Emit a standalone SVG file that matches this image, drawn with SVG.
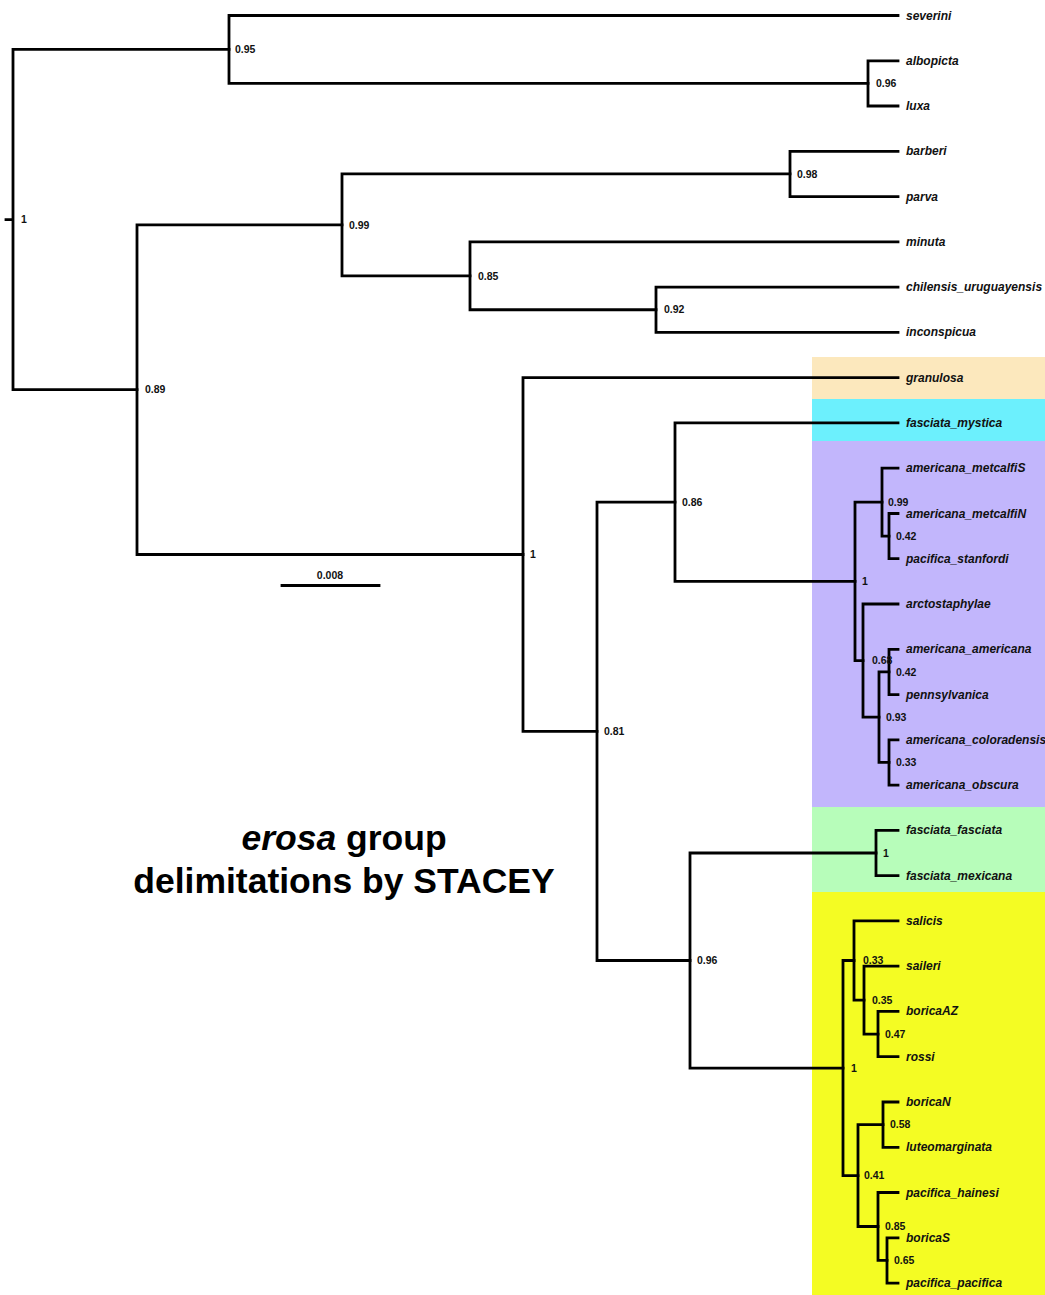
<svg xmlns="http://www.w3.org/2000/svg" width="1045" height="1295" viewBox="0 0 1045 1295">
<style>
.br{fill:none;stroke:#000;stroke-width:2.8;stroke-linecap:square;stroke-linejoin:miter}
.leaf{font-family:"Liberation Sans",Arial,sans-serif;font-size:12px;font-weight:bold;font-style:italic;fill:#111}
.sup{font-family:"Liberation Sans",Arial,sans-serif;font-size:10.5px;font-weight:bold;fill:#111}
.title{font-family:"Liberation Sans",Arial,sans-serif;font-size:35.5px;font-weight:bold;fill:#000;text-anchor:middle}
</style>
<rect x="0" y="0" width="1045" height="1295" fill="#fff"/>
<g id="bands">
<rect x="812" y="357" width="233" height="42" fill="#FCE8BD"/>
<rect x="812" y="399" width="233" height="42" fill="#6CF0FD"/>
<rect x="812" y="441" width="233" height="366" fill="#C2B6FC"/>
<rect x="812" y="807" width="233" height="85" fill="#B7FDBA"/>
<rect x="812" y="892" width="233" height="403" fill="#F4FC23"/>
</g>
<g id="connectors">
<path class="br" d="M6 219.6H13M13 49.45V389.7M13 49.45H229M13 389.7H137"/>
<path class="br" d="M229 15.5V83.4M229 15.5H898M229 83.4H868"/>
<path class="br" d="M868 60.8V106M868 60.8H898M868 106H898"/>
<path class="br" d="M137 224.9V554.5M137 224.9H342M137 554.5H523"/>
<path class="br" d="M342 173.95V275.8M342 173.95H790M342 275.8H470"/>
<path class="br" d="M790 151.3V196.6M790 151.3H898M790 196.6H898"/>
<path class="br" d="M470 241.9V309.75M470 241.9H898M470 309.75H656"/>
<path class="br" d="M656 287.1V332.4M656 287.1H898M656 332.4H898"/>
<path class="br" d="M523 377.7V731.3M523 377.7H898M523 731.3H597"/>
<path class="br" d="M597 502.15V960.5M597 502.15H675M597 960.5H690"/>
<path class="br" d="M675 422.9V581.4M675 422.9H898M675 581.4H855"/>
<path class="br" d="M855 502.15V660.6M855 502.15H882M855 660.6H863"/>
<path class="br" d="M882 468.2V536.1M882 468.2H898M882 536.1H889"/>
<path class="br" d="M889 513.5V558.7M889 513.5H898M889 558.7H898"/>
<path class="br" d="M863 604V717.2M863 604H898M863 717.2H879"/>
<path class="br" d="M879 671.95V762.45M879 671.95H889M879 762.45H889"/>
<path class="br" d="M889 649.3V694.6M889 649.3H898M889 694.6H898"/>
<path class="br" d="M889 739.8V785.1M889 739.8H898M889 785.1H898"/>
<path class="br" d="M690 853V1068.05M690 853H876M690 1068.05H843"/>
<path class="br" d="M876 830.4V875.6M876 830.4H898M876 875.6H898"/>
<path class="br" d="M843 960.5V1175.6M843 960.5H854M843 1175.6H858"/>
<path class="br" d="M854 920.9V1000.1M854 920.9H898M854 1000.1H864"/>
<path class="br" d="M864 966.2V1034.05M864 966.2H898M864 1034.05H878"/>
<path class="br" d="M878 1011.4V1056.7M878 1011.4H898M878 1056.7H898"/>
<path class="br" d="M858 1124.65V1226.5M858 1124.65H883M858 1226.5H878"/>
<path class="br" d="M883 1102V1147.3M883 1102H898M883 1147.3H898"/>
<path class="br" d="M878 1192.5V1260.45M878 1192.5H898M878 1260.45H887"/>
<path class="br" d="M887 1237.8V1283.1M887 1237.8H898M887 1283.1H898"/>
<path class="br" d="M282 585.5H379"/>
</g>
<g id="leaves">
<g id="leaf-severini"><text class="leaf" x="906" y="19.5">severini</text></g>
<g id="leaf-albopicta"><text class="leaf" x="906" y="64.8">albopicta</text></g>
<g id="leaf-luxa"><text class="leaf" x="906" y="110">luxa</text></g>
<g id="leaf-barberi"><text class="leaf" x="906" y="155.3">barberi</text></g>
<g id="leaf-parva"><text class="leaf" x="906" y="200.6">parva</text></g>
<g id="leaf-minuta"><text class="leaf" x="906" y="245.9">minuta</text></g>
<g id="leaf-chilensis"><text class="leaf" x="906" y="291.1">chilensis_uruguayensis</text></g>
<g id="leaf-inconspicua"><text class="leaf" x="906" y="336.4">inconspicua</text></g>
<g id="leaf-granulosa"><text class="leaf" x="906" y="381.7">granulosa</text></g>
<g id="leaf-fasciata_mystica"><text class="leaf" x="906" y="426.9">fasciata_mystica</text></g>
<g id="leaf-americana_metcalfiS"><text class="leaf" x="906" y="472.2">americana_metcalfiS</text></g>
<g id="leaf-americana_metcalfiN"><text class="leaf" x="906" y="517.5">americana_metcalfiN</text></g>
<g id="leaf-pacifica_stanfordi"><text class="leaf" x="906" y="562.7">pacifica_stanfordi</text></g>
<g id="leaf-arctostaphylae"><text class="leaf" x="906" y="608">arctostaphylae</text></g>
<g id="leaf-americana_americana"><text class="leaf" x="906" y="653.3">americana_americana</text></g>
<g id="leaf-pennsylvanica"><text class="leaf" x="906" y="698.6">pennsylvanica</text></g>
<g id="leaf-americana_coloradensis"><text class="leaf" x="906" y="743.8">americana_coloradensis</text></g>
<g id="leaf-americana_obscura"><text class="leaf" x="906" y="789.1">americana_obscura</text></g>
<g id="leaf-fasciata_fasciata"><text class="leaf" x="906" y="834.4">fasciata_fasciata</text></g>
<g id="leaf-fasciata_mexicana"><text class="leaf" x="906" y="879.6">fasciata_mexicana</text></g>
<g id="leaf-salicis"><text class="leaf" x="906" y="924.9">salicis</text></g>
<g id="leaf-saileri"><text class="leaf" x="906" y="970.2">saileri</text></g>
<g id="leaf-boricaAZ"><text class="leaf" x="906" y="1015.4">boricaAZ</text></g>
<g id="leaf-rossi"><text class="leaf" x="906" y="1060.7">rossi</text></g>
<g id="leaf-boricaN"><text class="leaf" x="906" y="1106">boricaN</text></g>
<g id="leaf-luteomarginata"><text class="leaf" x="906" y="1151.3">luteomarginata</text></g>
<g id="leaf-pacifica_hainesi"><text class="leaf" x="906" y="1196.5">pacifica_hainesi</text></g>
<g id="leaf-boricaS"><text class="leaf" x="906" y="1241.8">boricaS</text></g>
<g id="leaf-pacifica_pacifica"><text class="leaf" x="906" y="1287.1">pacifica_pacifica</text></g>
</g>
<g id="support">
<g id="n-root"><text class="sup" x="21" y="223">1</text></g>
<g id="n-A"><text class="sup" x="235" y="53">0.95</text></g>
<g id="n-C"><text class="sup" x="876" y="87">0.96</text></g>
<g id="n-B"><text class="sup" x="145" y="393">0.89</text></g>
<g id="n-D"><text class="sup" x="349" y="228.5">0.99</text></g>
<g id="n-F"><text class="sup" x="797" y="177.5">0.98</text></g>
<g id="n-G"><text class="sup" x="478" y="279.5">0.85</text></g>
<g id="n-H"><text class="sup" x="664" y="313">0.92</text></g>
<g id="n-E"><text class="sup" x="530" y="558">1</text></g>
<g id="n-I"><text class="sup" x="604" y="735">0.81</text></g>
<g id="n-J"><text class="sup" x="682" y="505.5">0.86</text></g>
<g id="n-L"><text class="sup" x="862" y="585">1</text></g>
<g id="n-M"><text class="sup" x="888" y="506">0.99</text></g>
<g id="n-O"><text class="sup" x="896" y="540">0.42</text></g>
<g id="n-N"><text class="sup" x="872" y="664">0.68</text></g>
<g id="n-P"><text class="sup" x="886" y="721">0.93</text></g>
<g id="n-Q"><text class="sup" x="896" y="675.5">0.42</text></g>
<g id="n-R"><text class="sup" x="896" y="766">0.33</text></g>
<g id="n-K"><text class="sup" x="697" y="964">0.96</text></g>
<g id="n-S"><text class="sup" x="883" y="857">1</text></g>
<g id="n-T"><text class="sup" x="851" y="1072">1</text></g>
<g id="n-U"><text class="sup" x="863" y="964">0.33</text></g>
<g id="n-W"><text class="sup" x="872" y="1003.5">0.35</text></g>
<g id="n-X"><text class="sup" x="885" y="1037.5">0.47</text></g>
<g id="n-V"><text class="sup" x="864" y="1179">0.41</text></g>
<g id="n-Y"><text class="sup" x="890" y="1128">0.58</text></g>
<g id="n-Z"><text class="sup" x="885" y="1230">0.85</text></g>
<g id="n-AA"><text class="sup" x="894" y="1264">0.65</text></g>
</g>
<g id="scale"><text class="sup" x="330" y="579" text-anchor="middle">0.008</text></g>
<g id="title">
<text class="title" x="344" y="850"><tspan font-style="italic">erosa</tspan> group</text>
<text class="title" x="344" y="893">delimitations by STACEY</text>
</g>
</svg>
